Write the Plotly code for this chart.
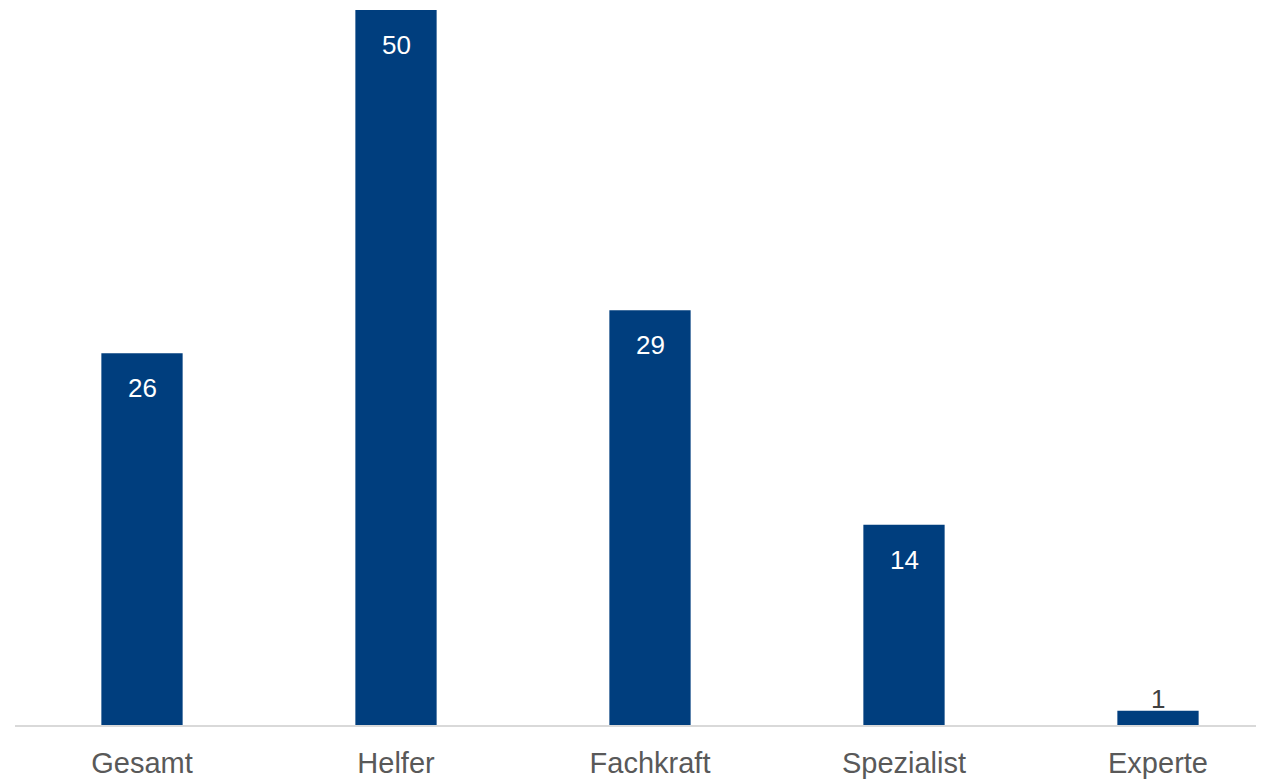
import plotly.graph_objects as go

categories = ["Gesamt", "Helfer", "Fachkraft", "Spezialist", "Experte"]
values = [26, 50, 29, 14, 1]

BAR = "#003E7E"
FONT = "Liberation Sans, Arial, sans-serif"
fig = go.Figure(go.Bar(x=categories, y=values, marker_color=BAR, marker_line_width=0,
                       hoverinfo="skip"))

annotations = []
for c, v in zip(categories, values):
    if v >= 5:
        annotations.append(dict(x=c, y=v, text=str(v), showarrow=False, yanchor="middle",
                                yshift=-35, font=dict(color="white", size=26, family=FONT)))
    else:
        annotations.append(dict(x=c, y=v, text=str(v), showarrow=False, yanchor="middle",
                                yshift=12, font=dict(color="#404040", size=26, family=FONT)))

fig.update_layout(
    width=1256, height=771,
    margin=dict(l=7, r=0, t=2, b=52),
    paper_bgcolor="white", plot_bgcolor="white",
    bargap=0.68, showlegend=False,
    annotations=annotations,
    xaxis=dict(range=[-0.5, -0.5 + 1249 / 254], showgrid=False, showline=True,
               linecolor="#D9D9D9", linewidth=2, ticks="", zeroline=False,
               ticklabelstandoff=11,
               tickfont=dict(size=29, color="#595959", family=FONT)),
    yaxis=dict(range=[0, 50], visible=False, showgrid=False, zeroline=False),
)

fig.write_html("out.html")
